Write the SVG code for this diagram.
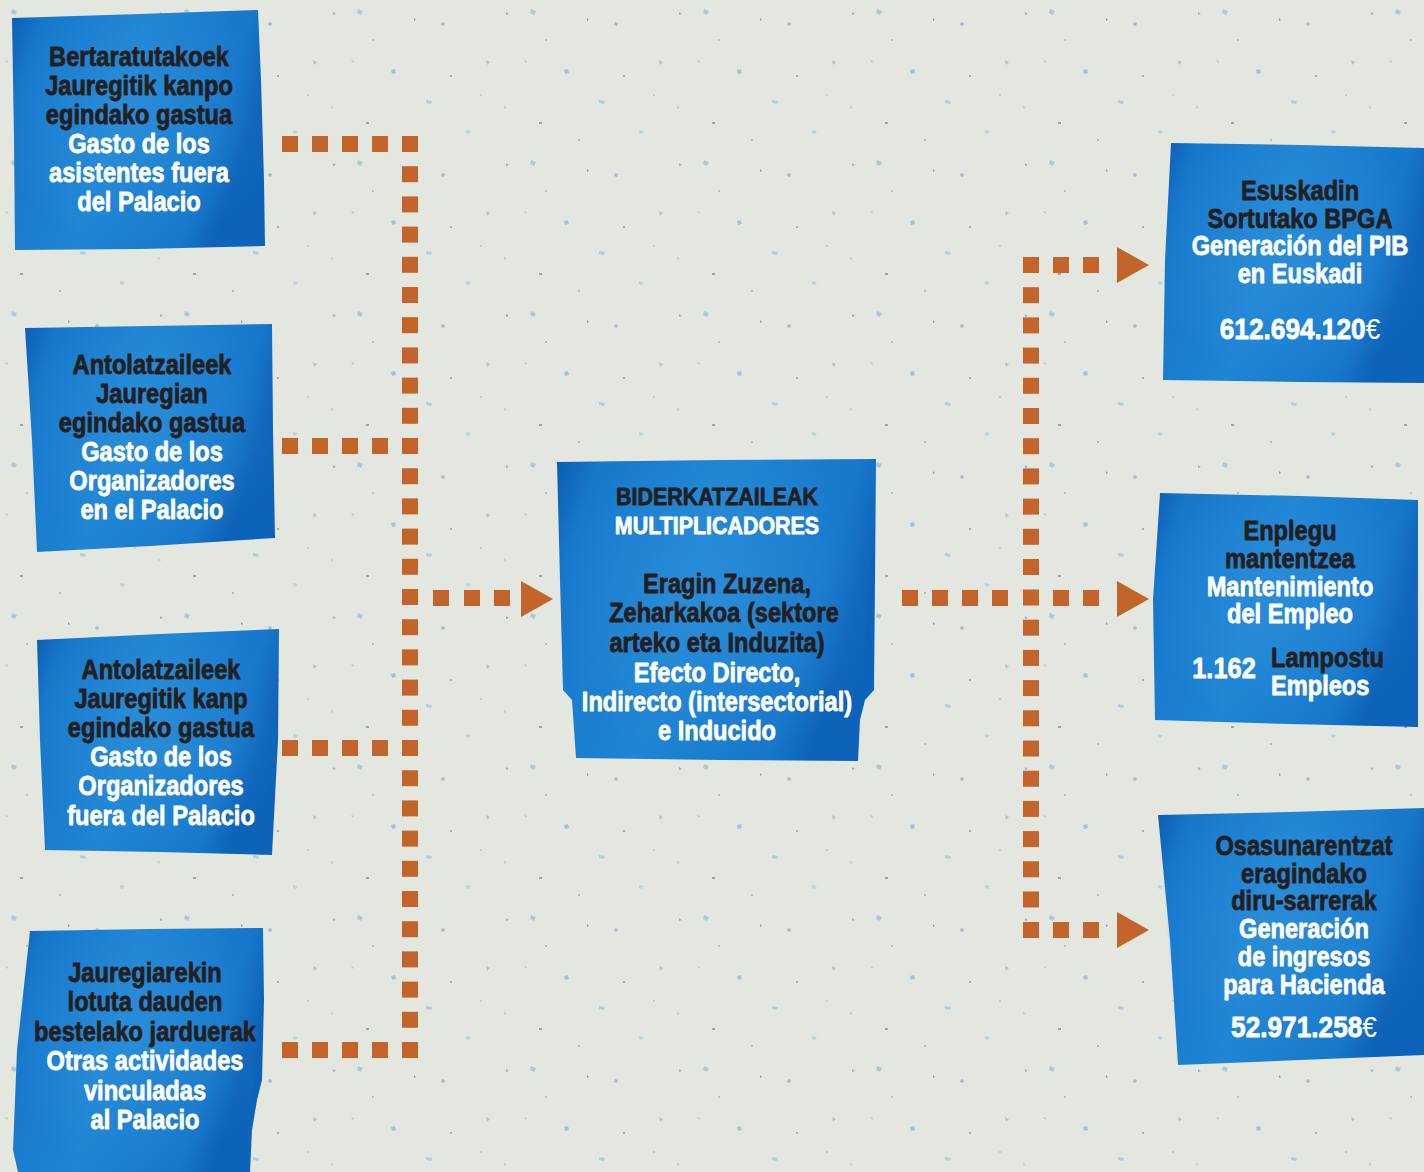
<svg xmlns="http://www.w3.org/2000/svg" width="1424" height="1172" viewBox="0 0 1424 1172">
<defs>
  <linearGradient id="blue" x1="0" y1="0" x2="1" y2="0.3">
    <stop offset="0" stop-color="#0b5db3"/>
    <stop offset="0.12" stop-color="#1677cb"/>
    <stop offset="0.5" stop-color="#1f85d4"/>
    <stop offset="0.88" stop-color="#1677cb"/>
    <stop offset="1" stop-color="#0d63b9"/>
  </linearGradient>
  <radialGradient id="glow" cx="0.5" cy="0.45" r="0.55">
    <stop offset="0" stop-color="#3a9ce2" stop-opacity="0.4"/>
    <stop offset="1" stop-color="#3a9ce2" stop-opacity="0"/>
  </radialGradient>
  <pattern id="speck" width="173" height="151" patternUnits="userSpaceOnUse">
    <rect width="173" height="151" fill="#e4e7df"/>
    <g opacity="0.75">
      <path d="M12 9 l5 2 -2 4 -4 -2z" fill="#8fc3e0"/>
      <path d="M96 22 l3 1 -1 3 -3 -1z" fill="#9aa6c8"/>
      <path d="M45 70 l4 -1 1 4 -4 1z" fill="#7fb9e3"/>
      <path d="M140 60 l4 2 -3 3z" fill="#a9b3c2"/>
      <path d="M20 122 l3 0 0 2 -3 0z" fill="#8a8f8e"/>
      <path d="M120 130 l5 1 -2 3 -3 -1z" fill="#a6cfe8"/>
      <path d="M68 18 l2 2 -2 1z" fill="#7b7f80"/>
      <path d="M158 105 l3 3 -3 1z" fill="#b7c9d6"/>
      <path d="M5 60 l3 1 -1 2z" fill="#9fc7a8"/>
      <path d="M80 100 l6 1 -1 3 -5 -1z" fill="#9cc6e6"/>
      <path d="M160 12 l3 2 -3 1z" fill="#8a9cc0"/>
      <circle cx="105" cy="76" r="1.1" fill="#8b8b8b"/>
      <circle cx="27" cy="40" r="0.9" fill="#999"/>
      <circle cx="60" cy="140" r="1" fill="#9a9a9a"/>
      <circle cx="135" cy="95" r="0.8" fill="#999"/>
    </g>
  </pattern>
  <style>
    .box{fill:url(#blue)}
    .glow{fill:url(#glow)}
    text{font-family:"Liberation Sans",Arial,"DejaVu Sans",sans-serif;font-weight:bold;font-size:27px;text-anchor:middle;stroke-width:0.8;stroke-linejoin:round}
    .d{fill:#231f20;stroke:#231f20}
    .w{fill:#ffffff;stroke:#ffffff}
    .n{font-size:30px}
    .h{font-size:24.5px}
    .eu{font-weight:normal;stroke-width:0}
    .dot{fill:#c3642b}
  </style>
  <rect id="sq" class="dot" x="-8" y="-8" width="16" height="16"/>
</defs>

<rect width="1424" height="1172" fill="url(#speck)"/>

<g id="connectors">
  <g id="left-column">
    <use href="#sq" x="290" y="144"/><use href="#sq" x="320" y="144"/><use href="#sq" x="350" y="144"/><use href="#sq" x="380" y="144"/>
    <use href="#sq" x="290" y="446"/><use href="#sq" x="320" y="446"/><use href="#sq" x="350" y="446"/><use href="#sq" x="380" y="446"/>
    <use href="#sq" x="290" y="748"/><use href="#sq" x="320" y="748"/><use href="#sq" x="350" y="748"/><use href="#sq" x="380" y="748"/>
    <use href="#sq" x="290" y="1050"/><use href="#sq" x="320" y="1050"/><use href="#sq" x="350" y="1050"/><use href="#sq" x="380" y="1050"/>
    <use href="#sq" x="410" y="144"/><use href="#sq" x="410" y="174.2"/><use href="#sq" x="410" y="204.4"/><use href="#sq" x="410" y="234.6"/><use href="#sq" x="410" y="264.8"/>
    <use href="#sq" x="410" y="295"/><use href="#sq" x="410" y="325.2"/><use href="#sq" x="410" y="355.4"/><use href="#sq" x="410" y="385.6"/><use href="#sq" x="410" y="415.8"/>
    <use href="#sq" x="410" y="446"/><use href="#sq" x="410" y="476.2"/><use href="#sq" x="410" y="506.4"/><use href="#sq" x="410" y="536.6"/><use href="#sq" x="410" y="566.8"/>
    <use href="#sq" x="410" y="597"/><use href="#sq" x="410" y="627.2"/><use href="#sq" x="410" y="657.4"/><use href="#sq" x="410" y="687.6"/><use href="#sq" x="410" y="717.8"/>
    <use href="#sq" x="410" y="748"/><use href="#sq" x="410" y="778.2"/><use href="#sq" x="410" y="808.4"/><use href="#sq" x="410" y="838.6"/><use href="#sq" x="410" y="868.8"/>
    <use href="#sq" x="410" y="899"/><use href="#sq" x="410" y="929.2"/><use href="#sq" x="410" y="959.4"/><use href="#sq" x="410" y="989.6"/><use href="#sq" x="410" y="1019.8"/>
    <use href="#sq" x="410" y="1050"/>
  </g>
  <g id="to-center">
    <use href="#sq" x="441" y="598"/><use href="#sq" x="472" y="598"/><use href="#sq" x="502" y="598"/>
    <path class="dot" d="M521 581 L553 599 L521 617 Z"/>
  </g>
  <g id="right-column">
    <use href="#sq" x="910" y="598"/><use href="#sq" x="940" y="598"/><use href="#sq" x="970" y="598"/><use href="#sq" x="1000" y="598"/>
    <use href="#sq" x="1061" y="265"/><use href="#sq" x="1091" y="265"/>
    <use href="#sq" x="1061" y="598"/><use href="#sq" x="1091" y="598"/>
    <use href="#sq" x="1061" y="930"/><use href="#sq" x="1091" y="930"/>
    <use href="#sq" x="1031" y="265"/><use href="#sq" x="1031" y="295.2"/><use href="#sq" x="1031" y="325.4"/><use href="#sq" x="1031" y="355.6"/><use href="#sq" x="1031" y="385.8"/>
    <use href="#sq" x="1031" y="416"/><use href="#sq" x="1031" y="446.2"/><use href="#sq" x="1031" y="476.4"/><use href="#sq" x="1031" y="506.6"/><use href="#sq" x="1031" y="536.8"/>
    <use href="#sq" x="1031" y="567"/><use href="#sq" x="1031" y="597.5"/><use href="#sq" x="1031" y="627.7"/><use href="#sq" x="1031" y="657.9"/><use href="#sq" x="1031" y="688.1"/>
    <use href="#sq" x="1031" y="718.3"/><use href="#sq" x="1031" y="748.5"/><use href="#sq" x="1031" y="778.7"/><use href="#sq" x="1031" y="808.9"/><use href="#sq" x="1031" y="839.1"/>
    <use href="#sq" x="1031" y="869.3"/><use href="#sq" x="1031" y="899.5"/><use href="#sq" x="1031" y="930"/>
    <path class="dot" d="M1117 247 L1149 265 L1117 283 Z"/>
    <path class="dot" d="M1117 581 L1149 599 L1117 617 Z"/>
    <path class="dot" d="M1117 912 L1149 930 L1117 948 Z"/>
  </g>
</g>

<g id="node-asistentes">
  <path class="box" d="M12 18 L140 14 L258 10 L261 80 L264 180 L265 246 L140 249 L15 250 L14 140 Z"/>
  <path class="glow" d="M12 18 L258 10 L265 246 L15 250 Z"/>
  <text class="d" transform="translate(139 66) scale(0.875 1)">Bertaratutakoek</text>
  <text class="d" transform="translate(139 95) scale(0.875 1)">Jauregitik kanpo</text>
  <text class="d" transform="translate(139 124) scale(0.875 1)">egindako gastua</text>
  <text class="w" transform="translate(139 153) scale(0.875 1)">Gasto de los</text>
  <text class="w" transform="translate(139 182) scale(0.875 1)">asistentes fuera</text>
  <text class="w" transform="translate(139 211) scale(0.875 1)">del Palacio</text>
</g>

<g id="node-organizadores-palacio">
  <path class="box" d="M25 328 L150 326 L272 324 L273 430 L275 538 L150 546 L37 552 L32 440 Z"/>
  <path class="glow" d="M25 328 L272 324 L275 538 L37 552 Z"/>
  <text class="d" transform="translate(152 374) scale(0.875 1)">Antolatzaileek</text>
  <text class="d" transform="translate(152 403) scale(0.875 1)">Jauregian</text>
  <text class="d" transform="translate(152 432) scale(0.875 1)">egindako gastua</text>
  <text class="w" transform="translate(152 461) scale(0.875 1)">Gasto de los</text>
  <text class="w" transform="translate(152 490) scale(0.875 1)">Organizadores</text>
  <text class="w" transform="translate(152 519) scale(0.875 1)">en el Palacio</text>
</g>

<g id="node-organizadores-fuera">
  <path class="box" d="M37 640 L160 634 L279 629 L278 740 L272 855 L160 852 L45 850 L40 740 Z"/>
  <path class="glow" d="M37 640 L279 629 L272 855 L45 850 Z"/>
  <text class="d" transform="translate(161 679) scale(0.875 1)">Antolatzaileek</text>
  <text class="d" transform="translate(161 708) scale(0.875 1)">Jauregitik kanp</text>
  <text class="d" transform="translate(161 737) scale(0.875 1)">egindako gastua</text>
  <text class="w" transform="translate(161 766) scale(0.875 1)">Gasto de los</text>
  <text class="w" transform="translate(161 795) scale(0.875 1)">Organizadores</text>
  <text class="w" transform="translate(161 825) scale(0.875 1)">fuera del Palacio</text>
</g>

<g id="node-otras">
  <path class="box" d="M30 931 L150 929 L263 928 L264 1000 L262 1080 L257 1100 L252 1130 L250 1172 L18 1172 L13 1150 L17 1050 Z"/>
  <path class="glow" d="M30 931 L263 928 L250 1172 L18 1172 Z"/>
  <text class="d" transform="translate(145 982) scale(0.875 1)">Jauregiarekin</text>
  <text class="d" transform="translate(145 1011) scale(0.875 1)">lotuta dauden</text>
  <text class="d" transform="translate(145 1041) scale(0.875 1)">bestelako jarduerak</text>
  <text class="w" transform="translate(145 1070) scale(0.875 1)">Otras actividades</text>
  <text class="w" transform="translate(145 1100) scale(0.875 1)">vinculadas</text>
  <text class="w" transform="translate(145 1129) scale(0.875 1)">al Palacio</text>
</g>

<g id="node-multiplicadores">
  <path class="box" d="M557 462 L720 460 L876 459 L875 580 L874 690 L865 700 L860 720 L858 761 L720 760 L576 758 L572 700 L563 690 L560 580 Z"/>
  <path class="glow" d="M557 462 L876 459 L858 761 L576 758 Z"/>
  <text class="d h" transform="translate(717 505) scale(0.875 1)">BIDERKATZAILEAK</text>
  <text class="w h" transform="translate(717 534) scale(0.875 1)">MULTIPLICADORES</text>
  <text class="d" transform="translate(727 593) scale(0.875 1)">Eragin Zuzena,</text>
  <text class="d" transform="translate(724 622) scale(0.875 1)">Zeharkakoa (sektore</text>
  <text class="d" transform="translate(717 652) scale(0.875 1)">arteko eta Induzita)</text>
  <text class="w" transform="translate(717 682) scale(0.875 1)">Efecto Directo,</text>
  <text class="w" transform="translate(717 711) scale(0.875 1)">Indirecto (intersectorial)</text>
  <text class="w" transform="translate(717 740) scale(0.875 1)">e Inducido</text>
</g>

<g id="node-pib">
  <path class="box" d="M1171 143 L1300 145 L1424 148 L1424 383 L1300 382 L1163 380 L1165 260 Z"/>
  <path class="glow" d="M1171 143 L1424 148 L1424 383 L1163 380 Z"/>
  <text class="d" transform="translate(1300 200) scale(0.875 1)">Esuskadin</text>
  <text class="d" transform="translate(1300 228) scale(0.875 1)">Sortutako BPGA</text>
  <text class="w" transform="translate(1300 255) scale(0.875 1)">Generación del PIB</text>
  <text class="w" transform="translate(1300 283) scale(0.875 1)">en Euskadi</text>
  <text class="w n" transform="translate(1300 339) scale(0.875 1)">612.694.120<tspan class="eu">€</tspan></text>
</g>

<g id="node-empleo">
  <path class="box" d="M1160 493 L1300 496 L1418 500 L1418 620 L1418 727 L1290 724 L1155 720 L1153 600 Z"/>
  <path class="glow" d="M1160 493 L1418 500 L1418 727 L1155 720 Z"/>
  <text class="d" transform="translate(1290 540) scale(0.875 1)">Enplegu</text>
  <text class="d" transform="translate(1290 568) scale(0.875 1)">mantentzea</text>
  <text class="w" transform="translate(1290 596) scale(0.875 1)">Mantenimiento</text>
  <text class="w" transform="translate(1290 623) scale(0.875 1)">del Empleo</text>
  <text class="w" style="font-size:29px" transform="translate(1224 678) scale(0.875 1)">1.162</text>
  <text class="d" style="text-anchor:start" transform="translate(1271 667) scale(0.875 1)">Lampostu</text>
  <text class="w" style="text-anchor:start" transform="translate(1271 695) scale(0.875 1)">Empleos</text>
</g>

<g id="node-hacienda">
  <path class="box" d="M1158 815 L1290 812 L1424 808 L1424 1055 L1300 1060 L1178 1065 L1170 940 Z"/>
  <path class="glow" d="M1158 815 L1424 808 L1424 1055 L1178 1065 Z"/>
  <text class="d" transform="translate(1304 855) scale(0.875 1)">Osasunarentzat</text>
  <text class="d" transform="translate(1304 883) scale(0.875 1)">eragindako</text>
  <text class="d" transform="translate(1304 910) scale(0.875 1)">diru-sarrerak</text>
  <text class="w" transform="translate(1304 938) scale(0.875 1)">Generación</text>
  <text class="w" transform="translate(1304 966) scale(0.875 1)">de ingresos</text>
  <text class="w" transform="translate(1304 994) scale(0.875 1)">para Hacienda</text>
  <text class="w n" transform="translate(1304 1037) scale(0.875 1)">52.971.258<tspan class="eu">€</tspan></text>
</g>
</svg>
